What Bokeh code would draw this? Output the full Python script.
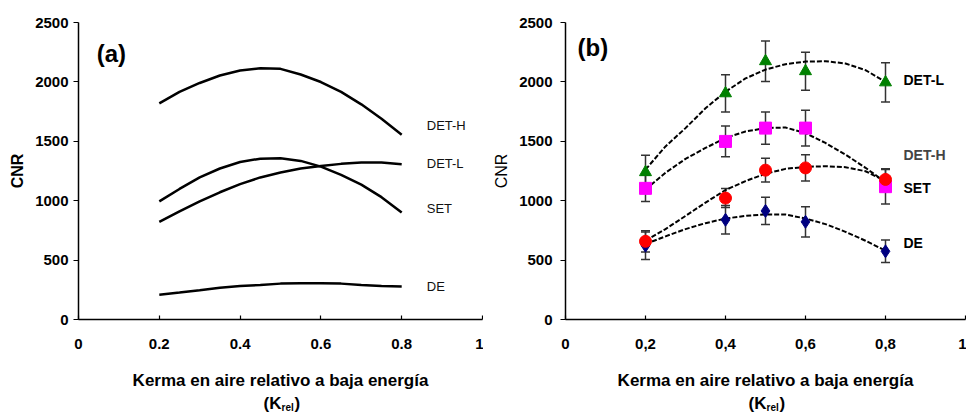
from bokeh.plotting import figure
from bokeh.layouts import row, column
from bokeh.models import (Range1d, FixedTicker, CustomJSTickFormatter, Label,
                          ColumnDataSource, Whisker, TeeHead)
from bokeh.embed import file_html
from bokeh.resources import INLINE

# ---------------- data: panel (a) curves ----------------
xa = [0.2, 0.25, 0.3, 0.35, 0.4, 0.45, 0.5, 0.55, 0.6, 0.65, 0.7, 0.75, 0.8]
a_deth = [1819, 1916, 1991, 2054, 2096, 2115, 2110, 2062, 1999, 1916, 1811, 1689, 1556]
a_set = [994, 1099, 1196, 1271, 1326, 1354, 1357, 1335, 1287, 1218, 1135, 1030, 900]
a_detl = [822, 911, 994, 1071, 1140, 1196, 1238, 1271, 1293, 1310, 1321, 1321, 1307]
a_de = [208, 227, 247, 268, 282, 291, 302, 305, 305, 302, 291, 282, 277]

# ---------------- data: panel (b) measurements ----------------
xb = [0.2, 0.4, 0.5, 0.6, 0.8]
b_detl = [1240, 1904, 2174, 2090, 1996]
b_detl_err = [142, 157, 170, 160, 165]
b_deth = [1104, 1499, 1611, 1611, 1118]
b_deth_err = [110, 130, 135, 150, 145]
b_set = [658, 1022, 1257, 1276, 1179]
b_set_err = [90, 80, 100, 110, 90]
b_de = [621, 839, 914, 822, 574]
b_de_err = [115, 120, 115, 128, 95]

# ---------------- data: panel (b) fitted curves ----------------
xf = [0.2, 0.25, 0.3, 0.35, 0.4, 0.45, 0.5, 0.55, 0.6, 0.65, 0.7, 0.75, 0.8]
f_detl = [1262, 1457, 1611, 1778, 1917, 2029, 2104, 2149, 2171, 2174, 2155, 2099, 2001]
f_deth = [1095, 1235, 1352, 1444, 1528, 1583, 1611, 1616, 1569, 1486, 1388, 1277, 1156]
f_set = [663, 761, 872, 984, 1090, 1165, 1227, 1268, 1285, 1290, 1282, 1248, 1165]
f_de = [635, 700, 761, 811, 850, 872, 884, 884, 850, 803, 738, 663, 579]

x_ticks = [0, 0.2, 0.4, 0.6, 0.8, 1]
y_ticks = [0, 500, 1000, 1500, 2000, 2500]
names = ["DET-H", "DET-L", "SET", "DE"]
x_title = "Kerma en aire relativo a baja energía"
x_title2 = ("(K", "rel", ")")
y_title = "CNR"

FONT = "Liberation Sans"
ROW_H = 360


def base_fig(border_left, border_top, frame_h, comma, cnr_style, cnr_standoff):
    p = figure(width=483, height=ROW_H, x_range=Range1d(0, 1), y_range=Range1d(0, 2500),
               min_border_left=border_left, min_border_right=1,
               min_border_top=border_top, min_border_bottom=ROW_H - border_top - frame_h,
               output_backend="svg", toolbar_location=None)
    p.grid.visible = False
    p.outline_line_color = None
    p.background_fill_color = "white"
    p.border_fill_color = "white"
    p.xaxis.ticker = FixedTicker(ticks=x_ticks)
    p.yaxis.ticker = FixedTicker(ticks=y_ticks)
    if comma:
        code = "return (tick == 0 || tick == 1) ? tick.toFixed(0) : tick.toFixed(1).replace('.', ',');"
    else:
        code = "return (tick == 0 || tick == 1) ? tick.toFixed(0) : tick.toFixed(1);"
    p.xaxis.formatter = CustomJSTickFormatter(code=code)
    for ax in (p.xaxis, p.yaxis):
        ax.axis_line_color = "black"
        ax.axis_line_width = 1.5
        ax.major_tick_line_color = "black"
        ax.major_tick_line_width = 1.2
        ax.minor_tick_line_color = None
        ax.major_label_text_font = FONT
        ax.major_label_text_font_style = "bold"
        ax.major_label_text_font_size = "15px"
        ax.major_label_text_color = "black"
    p.xaxis.major_tick_in = 4
    p.xaxis.major_tick_out = 0
    p.xaxis.major_label_standoff = 19
    p.yaxis.major_tick_in = 0
    p.yaxis.major_tick_out = 5
    p.yaxis.axis_label = y_title
    p.yaxis.axis_label_text_font = FONT
    p.yaxis.axis_label_text_font_style = cnr_style
    p.yaxis.axis_label_text_font_size = "16px"
    p.yaxis.axis_label_text_color = "black"
    p.yaxis.axis_label_standoff = cnr_standoff
    return p


# ---------------- panel (a) ----------------
p1 = base_fig(78, 18, 301, comma=False, cnr_style="bold", cnr_standoff=6)
for ys in (a_deth, a_set, a_detl, a_de):
    p1.line(xa, ys, line_color="black", line_width=2.5)

lab_a_y = {"DET-H": 1630, "DET-L": 1310, "SET": 933, "DE": 274}
for n in names:
    p1.add_layout(Label(x=0.862, y=lab_a_y[n], text=n, text_baseline="middle",
                        text_font=FONT, text_font_size="13px", text_color="#111111"))
p1.add_layout(Label(x=0.045, y=2243, text="(a)", text_baseline="middle",
                    text_font=FONT, text_font_style="bold", text_font_size="24px",
                    text_color="black"))

# ---------------- panel (b) ----------------
p2 = base_fig(82, 22, 299, comma=True, cnr_style="normal", cnr_standoff=6)
p2.yaxis.major_label_standoff = 8

for ys in (f_detl, f_deth, f_set, f_de):
    p2.line(xf, ys, line_color="black", line_width=2, line_dash="5 2")

series = [
    (b_de, b_de_err, "diamond", "#000080", 13),
    (b_detl, b_detl_err, "triangle", "#008000", 12),
    (b_deth, b_deth_err, "square", "#FF00FF", 12),
    (b_set, b_set_err, "circle", "#FF0000", 12),
]
for ys, err, marker, color, size in series:
    src = ColumnDataSource(dict(x=xb, y=ys,
                                upper=[v + e for v, e in zip(ys, err)],
                                lower=[v - e for v, e in zip(ys, err)]))
    p2.add_layout(Whisker(source=src, base="x", upper="upper", lower="lower",
                          line_color="#333333", line_width=1.5,
                          upper_head=TeeHead(size=9, line_color="#333333", line_width=1.5),
                          lower_head=TeeHead(size=9, line_color="#333333", line_width=1.5)))
    p2.scatter("x", "y", source=src, marker=marker, size=size,
               fill_color=color, line_color=color)

lab_b_y = {"DET-L": 2015, "DET-H": 1388, "SET": 1104, "DE": 644}
for n in ["DET-L", "DET-H", "SET", "DE"]:
    p2.add_layout(Label(x=0.845, y=lab_b_y[n], text=n, text_baseline="middle",
                        text_font=FONT, text_font_style="bold", text_font_size="14px",
                        text_color="#444444" if n == "DET-H" else "black"))
p2.add_layout(Label(x=0.03, y=2291, text="(b)", text_baseline="middle",
                    text_font=FONT, text_font_style="bold", text_font_size="24px",
                    text_color="black"))

# ---------------- strip below holding the x-axis titles ----------------
STRIP_H = 412 - ROW_H
p3 = figure(width=966, height=STRIP_H, x_range=Range1d(0, 966), y_range=Range1d(0, STRIP_H),
            x_axis_type=None, y_axis_type=None, min_border=0,
            output_backend="svg", toolbar_location=None)
p3.grid.visible = False
p3.outline_line_color = None
for cx in (280, 765):
    p3.add_layout(Label(x=cx, y=STRIP_H - 20, text=x_title, text_align="center",
                        text_baseline="middle", text_font=FONT, text_font_style="bold",
                        text_font_size="17px", text_color="black"))
    p3.add_layout(Label(x=cx + 1, y=9, text=x_title2[0], text_align="right",
                        text_baseline="middle", text_font=FONT, text_font_style="bold",
                        text_font_size="17px", text_color="black"))
    p3.add_layout(Label(x=cx + 1, y=5, text=x_title2[1], text_align="left",
                        text_baseline="middle", text_font=FONT, text_font_style="bold",
                        text_font_size="10px", text_color="black"))
    p3.add_layout(Label(x=cx + 14, y=9, text=x_title2[2], text_align="left",
                        text_baseline="middle", text_font=FONT, text_font_style="bold",
                        text_font_size="17px", text_color="black"))

layout = column(row(p1, p2), p3)
open("out.html", "w").write(file_html(layout, INLINE))
